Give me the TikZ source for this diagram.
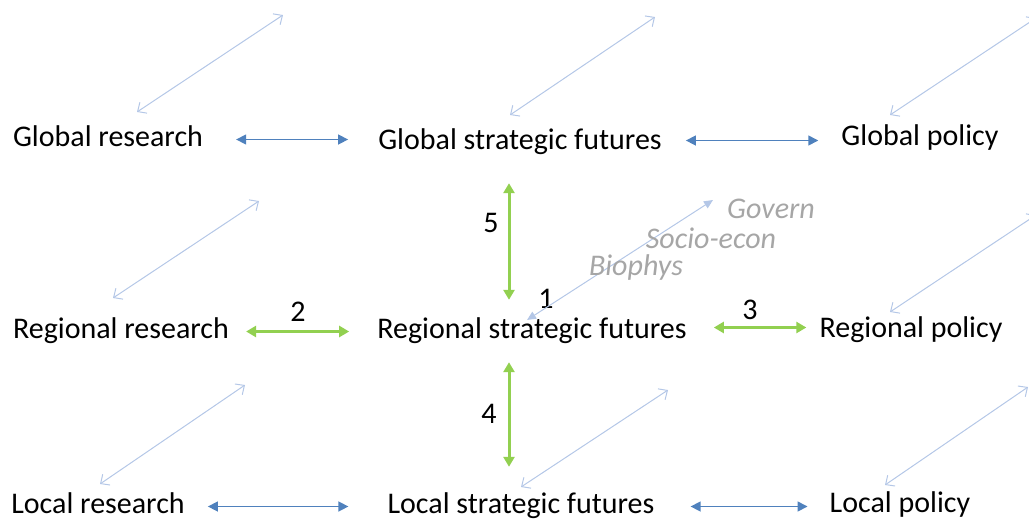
\documentclass[tikz,border=0pt]{standalone}
\usepackage{fontspec}
\setmainfont{Carlito}
\usetikzlibrary{arrows.meta}
\definecolor{linkblue}{HTML}{4F81BD}
\definecolor{linkgreen}{HTML}{92D050}
\definecolor{diagblue}{HTML}{B4C7E7}
\definecolor{dimgrey}{HTML}{A6A6A6}
\begin{document}
\begin{tikzpicture}[x=1pt, y=-1pt,
	every node/.style = {inner sep=0pt, font=\fontsize{30}{36}\selectfont},
	level/.style = {anchor=base, text height=20pt, text depth=7pt},
	num/.style = {anchor=center},
	theme/.style = {anchor=center, text=dimgrey, font=\fontsize{30}{36}\selectfont\itshape},
	bluelink/.style = {draw=linkblue, line width=1.5pt,
		{Triangle[length=10pt,width=10pt]}-{Triangle[length=10pt,width=10pt]}},
	greenlink/.style = {draw=linkgreen, line width=3pt,
		{Triangle[length=10pt,width=11pt]}-{Triangle[length=10pt,width=11pt]}},
	diag/.style = {draw=diagblue, line width=1pt,
		{Straight Barb[length=7pt,width=13pt]}-{Straight Barb[length=7pt,width=13pt]}},
	diagmid/.style = {draw=diagblue, line width=1pt,
		{Triangle[length=9pt,width=8pt]}-{Triangle[length=9pt,width=8pt]}}]
	\useasboundingbox (0,0) rectangle (1029,520);

	% levels
	\node[level] (glres) at (108,146) {Global research};
	\node[level] (glsf)  at (520,149) {Global strategic futures};
	\node[level] (glpol) at (920,145) {Global policy};
	\node[level] (rgres) at (121,338) {Regional research};
	\node[level] (rgsf)  at (532,338) {Regional strategic futures};
	\node[level] (rgpol) at (911,337) {Regional policy};
	\node[level] (lcres) at (98,513)  {Local research};
	\node[level] (lcsf)  at (521,513) {Local strategic futures};
	\node[level] (lcpol) at (900,512) {Local policy};

	% links between levels
	\draw[bluelink, shorten <=33pt, shorten >=30pt] (glres.east) -- (glsf.west |- glres.east);
	\draw[bluelink, shorten <=24pt, shorten >=23pt] ([yshift=2pt]glsf.east) -- ([yshift=2pt]glsf.east -| glpol.west);
	\draw[bluelink, shorten <=23pt, shorten >=39pt] (lcres.east) -- (lcsf.west |- lcres.east);
	\draw[bluelink, shorten <=36pt, shorten >=22pt] (lcsf.east) -- (lcsf.east -| lcpol.west);

	\draw[greenlink, shorten <=17pt, shorten >=28pt] (rgres.east) -- (rgsf.west |- rgres.east);
	\draw[greenlink, shorten <=27pt, shorten >=13pt] ([yshift=4pt]rgsf.east) -- ([yshift=4pt]rgsf.east -| rgpol.west);
	\draw[greenlink, shorten <=27pt, shorten >=18pt] ([xshift=-11pt]glsf.south) -- ([xshift=-11pt]glsf.south |- rgsf.north);
	\draw[greenlink, shorten <=17pt, shorten >=26pt] ([xshift=-23pt]rgsf.south) -- ([xshift=-23pt]rgsf.south |- lcsf.north);

	\node[num] (n1) at (546,299) {1};
	\node[num] (n2) at (298,312) {2};
	\node[num] (n3) at (750,310) {3};
	\node[num] (n4) at (489,414) {4};
	\node[num] (n5) at (491,223) {5};

	% diagonal arrows
	\coordinate (d1a) at (137,112); \coordinate (d1b) at (283,15);
	\coordinate (d2a) at (510,115); \coordinate (d2b) at (655,17);
	\coordinate (d3a) at (890,115); \coordinate (d3b) at (1036,18);
	\coordinate (d4a) at (113,298); \coordinate (d4b) at (259,201);
	\coordinate (d5a) at (527,320); \coordinate (d5b) at (713,200);
	\coordinate (d6a) at (890,312); \coordinate (d6b) at (1036,215);
	\coordinate (d7a) at (100,484); \coordinate (d7b) at (245,385);
	\coordinate (d8a) at (521,487); \coordinate (d8b) at (668,390);
	\coordinate (d9a) at (885,485); \coordinate (d9b) at (1028,387);
	\draw[diag] (d1a) -- (d1b);
	\draw[diag] (d2a) -- (d2b);
	\draw[diag] (d3a) -- (d3b);
	\draw[diag] (d4a) -- (d4b);
	\draw[diagmid] (d5a) -- (d5b);
	\draw[diag] (d6a) -- (d6b);
	\draw[diag] (d7a) -- (d7b);
	\draw[diag] (d8a) -- (d8b);
	\draw[diag] (d9a) -- (d9b);

	\node[theme] (govern)  at (771,209) {Govern};
	\node[theme] (socecon) at (711,238) {Socio-econ};
	\node[theme] (biophys) at (636,267) {Biophys};
\end{tikzpicture}
\end{document}
